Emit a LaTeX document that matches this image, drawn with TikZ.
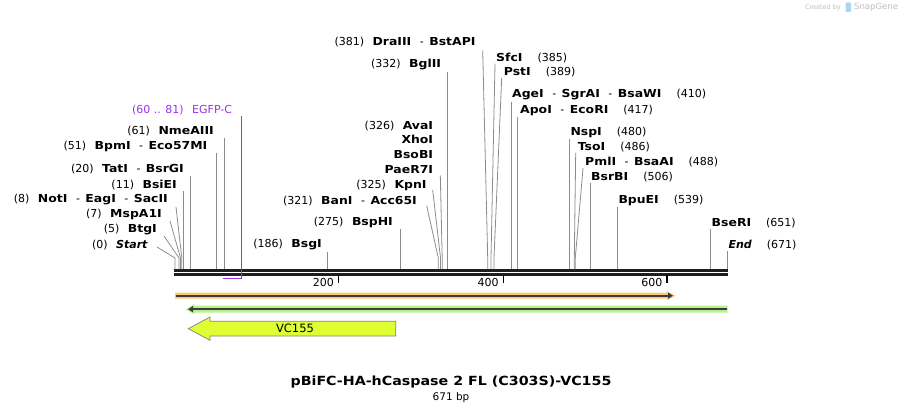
\documentclass[tikz,border=0pt]{standalone}
\usepackage{fontspec}
\setmainfont{DejaVu Sans}[BoldFeatures={FakeStretch=1.13}]
\usetikzlibrary{arrows.meta}

\definecolor{sitegray}{HTML}{8C8C8C}
\definecolor{bbblack}{HTML}{1E1E1E}
\definecolor{featpurple}{HTML}{9933EE}
\definecolor{orhalo}{HTML}{FCC878}
\definecolor{grhalo}{HTML}{B8F08C}
\definecolor{featdark}{HTML}{3C3C3C}
\definecolor{vcyellow}{HTML}{DFFF33}
\definecolor{wmgray}{HTML}{BDBDBD}
\definecolor{wmblue}{HTML}{A9D7F2}

\newcommand\nsp{\hspace{8.5pt}}
\newcommand\rsp{\hspace{15pt}}
\newcommand\esep{\hspace{8.5pt}-\hspace{5.5pt}}
\newcommand\enz[1]{\textbf{#1}}

\tikzset{
  lbl/.style={inner sep=1pt,font=\fontsize{11}{13}\selectfont},
  siteln/.style={draw=sitegray,line width=0.8pt},
  bbline/.style={draw=bbblack,line width=2.6pt},
  featln/.style={draw=featdark,line width=2pt},
  wm/.style={inner sep=0pt,text=wmgray}
}

\begin{document}
\begin{tikzpicture}[x=1pt,y=-1pt]
  \useasboundingbox (0,0) rectangle (902,414);

  % backbone (double strand)
  \coordinate (bbL) at (174,270.3);
  \coordinate (bbR) at (727.7,270.3);
  \draw[bbline] (bbL) -- (bbR);
  \draw[bbline,line width=2.3pt] ([yshift=-4.3pt]bbL) -- ([yshift=-4.3pt]bbR);

  % ruler
  \coordinate (t200) at (338.5,275);
  \coordinate (t400) at (503.3,275);
  \coordinate (t600) at (667,275);
  \draw[line width=1.4pt] (t200) -- ++(0,8);
  \draw[line width=1.4pt] (t400) -- ++(0,8);
  \draw[line width=1.4pt] (t600) -- ++(0,8);
  \node[lbl,anchor=east] (n200) at (335,282) {200};
  \node[lbl,anchor=east] (n400) at (499.8,282) {400};
  \node[lbl,anchor=east] (n600) at (663.5,282) {600};

  % cut sites on the backbone
  \coordinate (sStart) at (175,269);
  \coordinate (sBtgI) at (179,269);
  \coordinate (sMspA1I) at (180.5,269);
  \coordinate (sNotI) at (181.8,269);
  \coordinate (sBsiEI) at (183.7,269);
  \coordinate (sTatI) at (190.5,269);
  \coordinate (sBpmI) at (216.8,269);
  \coordinate (sNmeAIII) at (224.7,269);
  \coordinate (sBsgI) at (327.5,269);
  \coordinate (sBspHI) at (400.5,269);
  \coordinate (sBanI) at (438.3,269);
  \coordinate (sKpnI) at (440.5,269);
  \coordinate (sAvaI) at (442.2,269);
  \coordinate (sBglII) at (447.3,269);
  \coordinate (sDraIII) at (487.7,269);
  \coordinate (sSfcI) at (491,269);
  \coordinate (sPstI) at (494,269);
  \coordinate (sAgeI) at (511.7,269);
  \coordinate (sApoI) at (517.3,269);
  \coordinate (sNspI) at (569.3,269);
  \coordinate (sTsoI) at (574.3,269);
  \coordinate (sPmlI) at (575.3,269);
  \coordinate (sBsrBI) at (590.3,269);
  \coordinate (sBpuEI) at (617.5,269);
  \coordinate (sBseRI) at (710.5,269);
  \coordinate (sEnd) at (727.3,269);

  % labels left of their sites
  \node[lbl,anchor=east] (lStart) at (149,245) {(0)\nsp\enz{\textit{Start}}};
  \node[lbl,anchor=east] (lBtgI) at (158,230) {(5)\nsp\enz{BtgI}};
  \node[lbl,anchor=east] (lMspA1I) at (163,214) {(7)\nsp\enz{MspA1I}};
  \node[lbl,anchor=east] (lNotI) at (169,200) {(8)\nsp\enz{NotI}\esep\enz{EagI}\esep\enz{SacII}};
  \node[lbl,anchor=east] (lBsiEI) at (178,185) {(11)\nsp\enz{BsiEI}};
  \node[lbl,anchor=east] (lTatI) at (185,169.5) {(20)\nsp\enz{TatI}\esep\enz{BsrGI}};
  \node[lbl,anchor=east] (lBpmI) at (208.5,146.5) {(51)\nsp\enz{BpmI}\esep\enz{Eco57MI}};
  \node[lbl,anchor=east] (lNmeAIII) at (215,131.5) {(61)\nsp\enz{NmeAIII}};
  \node[lbl,anchor=east] (lBsgI) at (323,245) {(186)\nsp\enz{BsgI}};
  \node[lbl,anchor=east] (lBspHI) at (394,222.7) {(275)\nsp\enz{BspHI}};
  \node[lbl,anchor=east] (lBanI) at (418,200.7) {(321)\nsp\enz{BanI}\esep\enz{Acc65I}};
  \node[lbl,anchor=east] (lKpnI) at (427.7,185) {(325)\nsp\enz{KpnI}};
  \node[lbl,anchor=east] (lAvaI) at (434.3,125.7) {(326)\nsp\enz{AvaI}};
  \node[lbl,anchor=east] (lXhoI) at (434.3,139.7) {\enz{XhoI}};
  \node[lbl,anchor=east] (lBsoBI) at (434.3,154.5) {\enz{BsoBI}};
  \node[lbl,anchor=east] (lPaeR7I) at (434.3,169.3) {\enz{PaeR7I}};
  \node[lbl,anchor=east] (lBglII) at (442.3,65) {(332)\nsp\enz{BglII}};
  \node[lbl,anchor=east] (lDraIII) at (476.7,42.3) {(381)\nsp\enz{DraIII}\esep\enz{BstAPI}};

  % labels right of their sites
  \node[lbl,anchor=west] (lSfcI) at (495,57.7) {\enz{SfcI}\rsp(385)};
  \node[lbl,anchor=west] (lPstI) at (502.7,72.3) {\enz{PstI}\rsp(389)};
  \node[lbl,anchor=west] (lAgeI) at (511,95) {\enz{AgeI}\esep\enz{SgrAI}\esep\enz{BsaWI}\rsp(410)};
  \node[lbl,anchor=west] (lApoI) at (519,110) {\enz{ApoI}\esep\enz{EcoRI}\rsp(417)};
  \node[lbl,anchor=west] (lNspI) at (569.3,132.3) {\enz{NspI}\rsp(480)};
  \node[lbl,anchor=west] (lTsoI) at (576.7,147.3) {\enz{TsoI}\rsp(486)};
  \node[lbl,anchor=west] (lPmlI) at (584,161.7) {\enz{PmlI}\esep\enz{BsaAI}\rsp(488)};
  \node[lbl,anchor=west] (lBsrBI) at (590,176.7) {\enz{BsrBI}\rsp(506)};
  \node[lbl,anchor=west] (lBpuEI) at (617.3,200) {\enz{BpuEI}\rsp(539)};
  \node[lbl,anchor=west] (lBseRI) at (710.5,222.7) {\enz{BseRI}\rsp(651)};
  \node[lbl,anchor=west] (lEnd) at (727.3,245) {\enz{\textit{End}}\rsp(671)};

  % connectors, slanted ones first
  \draw[siteln] ([shift={(8,2)}]lStart.east) -- ([yshift=11pt]sStart) -- (sStart);
  \draw[siteln] ([shift={(6,6)}]lBtgI.east) -- ([yshift=11pt]sBtgI) -- (sBtgI);
  \draw[siteln] ([shift={(7,7)}]lMspA1I.east) -- ([yshift=11pt]sMspA1I) -- (sMspA1I);
  \draw[siteln] ([shift={(7,7)}]lNotI.east) -- ([yshift=11pt]sNotI) -- (sNotI);
  \draw[siteln] ([shift={(8.7,5)}]lBanI.east) -- ([yshift=11pt]sBanI) -- (sBanI);
  \draw[siteln] ([shift={(5,5)}]lKpnI.east) -- ([yshift=11pt]sKpnI) -- (sKpnI);
  \draw[siteln] ([shift={(6,6)}]lPaeR7I.east) -- ([yshift=11pt]sAvaI) -- (sAvaI);
  \draw[siteln] ([shift={(6,8)}]lDraIII.east) -- ([yshift=11pt]sDraIII) -- (sDraIII);
  \draw[siteln] ([shift={(0,6)}]lSfcI.west) -- ([yshift=11pt]sSfcI) -- (sSfcI);
  \draw[siteln] ([shift={(-1,5.5)}]lPstI.west) -- ([yshift=11pt]sPstI) -- (sPstI);
  \draw[siteln] ([shift={(-1,5.5)}]lTsoI.west) -- ([yshift=11pt]sTsoI) -- (sTsoI);
  \draw[siteln] ([shift={(-1,6.5)}]lPmlI.west) -- ([yshift=11pt]sPmlI) -- (sPmlI);

  % straight connectors
  \draw[siteln] (sBsiEI |- lBsiEI.south) -- (sBsiEI);
  \draw[siteln] (sTatI |- lTatI.south) -- (sTatI);
  \draw[siteln] (sBpmI |- lBpmI.south) -- (sBpmI);
  \draw[siteln] (sNmeAIII |- lNmeAIII.south) -- (sNmeAIII);
  \draw[siteln] (sBsgI |- lBsgI.south) -- (sBsgI);
  \draw[siteln] (sBspHI |- lBspHI.south) -- (sBspHI);
  \draw[siteln] (sBglII |- lBglII.south) -- (sBglII);
  \draw[siteln] (sAgeI |- lAgeI.south) -- (sAgeI);
  \draw[siteln] (sApoI |- lApoI.south) -- (sApoI);
  \draw[siteln] (sNspI |- lNspI.south) -- (sNspI);
  \draw[siteln] (sBsrBI |- lBsrBI.south) -- (sBsrBI);
  \draw[siteln] (sBpuEI |- lBpuEI.south) -- (sBpuEI);
  \draw[siteln] (sBseRI |- lBseRI.south) -- (sBseRI);
  \draw[siteln] (sEnd |- lEnd.south) -- (sEnd);

  % EGFP-C primer site
  \coordinate (fEGFPa) at (223.3,278.6);
  \coordinate (fEGFPb) at (241.2,278.6);
  \node[lbl,anchor=east,text=featpurple] (lEGFP) at (233.3,110) {(60 .. 81)\nsp EGFP-C};
  \draw[featpurple,line width=1.6pt] (fEGFPa) -- (fEGFPb);
  \draw[featpurple,line width=0.9pt] (fEGFPb |- lEGFP.south) -- (fEGFPb);

  % features
  \fill[orhalo] (175,292.7) -- (667,292.7) -- (667,291.2) -- (675.5,295.7)
    -- (667,300.2) -- (667,298.7) -- (175,298.7) -- cycle;
  \draw[featln,-{Triangle[length=5pt,width=6pt]}] (175.5,295.7) -- (673,295.7);
  \fill[grhalo] (727.7,305.7) -- (194,305.7) -- (194,304.2) -- (185.5,309.2)
    -- (194,314.2) -- (194,312.7) -- (727.7,312.7) -- cycle;
  \draw[featln,-{Triangle[length=5pt,width=6pt]}] (727,309.2) -- (188,309.2);

  \draw[draw=gray,fill=vcyellow,line width=0.7pt] (188.3,328.7) -- (210,317) -- (210,321.3)
    -- (395.7,321.3) -- (395.7,336) -- (210,336) -- (210,340.3) -- cycle;
  \node[lbl,font=\fontsize{11.5}{13}\selectfont] (lVC) at (295,328.7) {VC155};

  % title
  \node[font=\bfseries\fontsize{12.6}{16}\selectfont] (title) at (451,382.5) {pBiFC-HA-hCaspase 2 FL (C303S)-VC155};
  \node[font=\fontsize{10.5}{12}\selectfont] (size) at (451,398) {671 bp};

  % watermark
  \node[wm,anchor=east,font=\fontsize{6.5}{8}\selectfont] (wmA) at (841,7.5) {Created by};
  \fill[wmblue,rounded corners=1pt] (845.5,2.5) rectangle (851,12);
  \node[wm,anchor=west,font=\fontsize{8.5}{10}\selectfont] (wmB) at (854,7.5) {SnapGene};
\end{tikzpicture}
\end{document}
